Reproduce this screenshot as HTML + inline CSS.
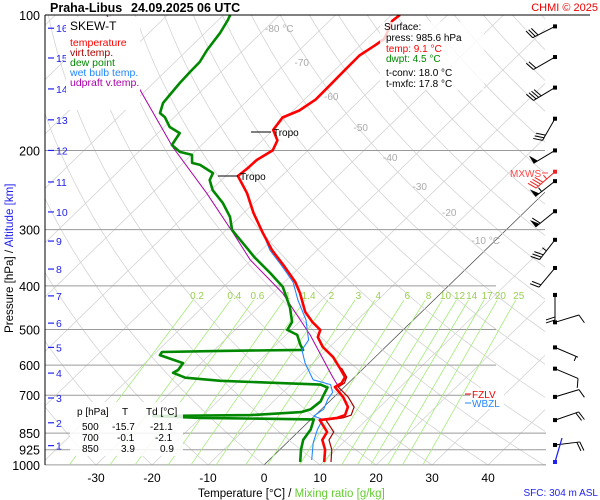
<!DOCTYPE html>
<html><head><meta charset="utf-8">
<style>
html,body{margin:0;padding:0;background:#fff;}
svg{display:block;font-family:"Liberation Sans",sans-serif;}
</style></head>
<body>
<svg id="chart" width="600" height="500" viewBox="0 0 600 500" xmlns="http://www.w3.org/2000/svg">
<defs><clipPath id="plotclip"><rect x="45" y="15" width="500" height="450"/></clipPath></defs>
<rect width="600" height="500" fill="#fff"/>
<g id="bg" clip-path="url(#plotclip)"></g>
<g id="plines"></g>
<g id="mix"></g>
<g id="series" clip-path="url(#plotclip)"></g>
<g id="barbs"></g>
<g id="axes"></g>

<line x1="45" y1="15" x2="590" y2="15" stroke="#000" stroke-width="1"/>
<line x1="45" y1="15" x2="45" y2="465" stroke="#000" stroke-width="1"/>
<text x="50" y="12" font-size="12.5" font-weight="bold">Praha-Libus</text>
<text x="131" y="12" font-size="12.5" font-weight="bold">24.09.2025 06 UTC</text>
<text x="598" y="11" font-size="11" fill="#e00" text-anchor="end">CHMI © 2025</text>

<g>
<rect x="66" y="17" width="74" height="93" fill="#fff"/>
<text x="70" y="30" font-size="12">SKEW-T</text>
<text x="70" y="46" font-size="10.5" fill="#f00">temperature</text>
<text x="70" y="56" font-size="10.5" fill="#a00">virt.temp.</text>
<text x="70" y="66" font-size="10.5" fill="#080">dew point</text>
<text x="70" y="76" font-size="10.5" fill="#28f">wet bulb temp.</text>
<text x="70" y="86" font-size="10.5" fill="#a0a">udpraft v.temp.</text>
</g>

<g font-size="10">
<rect x="70" y="402" width="113" height="54" fill="#fff" opacity="0.85"/>
<text x="77" y="415">p [hPa]</text><text x="122" y="415">T</text><text x="146" y="415">Td [°C]</text>
<text x="82" y="430">500</text><text x="112" y="430">-15.7</text><text x="150" y="430">-21.1</text>
<text x="82" y="441">700</text><text x="117" y="441">-0.1</text><text x="155" y="441">-2.1</text>
<text x="82" y="452">850</text><text x="121" y="452">3.9</text><text x="160" y="452">0.9</text>
</g>

<g font-size="10">
<rect x="470" y="388" width="34" height="21" fill="#fff"/>
<text x="472" y="398" fill="#e00">FZLV</text>
<line x1="465" y1="394" x2="471" y2="394" stroke="#e00"/>
<text x="472" y="407" fill="#28f">WBZL</text>
<line x1="465" y1="403" x2="471" y2="403" stroke="#28f"/>
<text x="510" y="177" fill="#f44" font-size="10">MXWS</text>
<line x1="542" y1="173" x2="548" y2="173" stroke="#f44"/>
</g>

<text x="198" y="497" font-size="11.5">Temperature [°C]  /  <tspan fill="#6c3">Mixing ratio [g/kg]</tspan></text>
<text x="598" y="496" font-size="10" fill="#22e" text-anchor="end">SFC: 304 m ASL</text>
<text transform="translate(13,333) rotate(-90)" font-size="11.6">Pressure [hPa]  /  <tspan fill="#22e">Altitude [km]</tspan></text>
</svg>
<script>
// ---- data ----
const tempP = [985,925,880,845,795,786,775,743,706,671,658,638,609,576,547,520,501,481,457,415,392,359,333,305,275,249,228,219,210,200,190,180,169,163,154,143,132,123,117,113,103,100];
const tempT = [10.2,8.1,5.8,5.2,1.7,4.4,5.3,4.3,1.6,-1.7,-1.2,-1.7,-4.3,-7.5,-11.2,-13.9,-14.8,-17.7,-20.8,-25.2,-28.1,-33.4,-38.1,-42.9,-48.3,-53.0,-57.8,-57.5,-57.4,-56.3,-57.3,-60.0,-60.6,-58.9,-58.0,-58.1,-58.2,-58.3,-57.4,-56.9,-58.8,-58.5];
const dewP = [985,925,880,834,792,786,779,775,763,752,722,704,673,663,650,640,624,615,594,570,561,558,555,541,514,501,481,446,402,374.5,345.6,329.8,300.6,281,261.9,245.1,232.8,224.6,215.4,213.2,204.6,201.5,194.5,183,177.4,168.6,165.2,157,150.6,141.6,133.8,127.2,119.6,109.7,102.6,100];
const dewT = [5.9,3.8,2.4,1.8,0.5,-19.9,-28.8,-11.5,-3.1,-1.9,-1.6,-2.1,-2.9,-4.7,-23.3,-30.1,-33.2,-32.8,-33.2,-38.8,-39.0,-28.8,-14.2,-15.6,-18.0,-20.7,-21.3,-24.4,-29.4,-34.2,-39.9,-42.9,-48.9,-51.7,-55.5,-59.7,-62.1,-62.8,-66.6,-68.4,-69.9,-72.6,-75.3,-76.1,-79.0,-81.7,-83.3,-84.6,-84.9,-85.3,-85.5,-85.6,-86.5,-87.3,-88.3,-88.8];
const wetP = [975,893,834,792,779,752,715,690,663,647,594,555,528,476,430,392,359,333,305,275,249,228];
const wetT = [7.6,4.7,3.0,2.1,-0.1,0.4,-0.7,-1.1,-2.9,-6.9,-11.4,-14.4,-15.0,-19.2,-24.3,-28.5,-33.8,-38.5,-42.9,-48.3,-53.0,-57.8];
const virtP = [985,925,880,845,795,786,775,743,706,671,658,638,609];
const virtT = [11.4,9.3,7.0,6.4,2.8,5.4,6.4,5.4,2.5,-1.1,-0.7,-1.4,-4.0];
const parcP = [663,638,514,415,350,305,249,196.5,146.8,100];
const parcT = [-1.7,-3.9,-15.7,-28.3,-40.2,-48.2,-60.2,-74.8,-91.1,-110.8];
const pTicks = [100,200,300,400,500,600,700,850,925,1000];
const tTicks = [-30,-20,-10,0,10,20,30,40];
const kmTicks = [1,2,3,4,5,6,7,8,9,10,11,12,13,14,15,16];
const kmP = [906,806,710,625,548,484,421,367,318,274,235,200,171,146,124.6,107];
const mixVals = [0.2,0.4,0.6,1,1.4,2,3,4,6,8,10,12,14,17,20,25];
const windP = [106,124,145,170,200,234,273,316,365,419,482,548,611,706,795,903];
const windDir = [243,240,239,210,239,232,231,218,220,180,73,113,113,73,71,83];
const windSpd = [30,20,40,30,50,55,60,35,20,20,10,5,10,10,20,20];
const tropoP = [182,228];
const tropoT = [-60.0,-57.8];

// ---- axes ----
const NS='http://www.w3.org/2000/svg';
function yOf(p){return 15+195.4*Math.log(p/100);}
function xOf(T,p){return 264+5.6*T+1.03*(465-yOf(p));}
function mk(tag,attrs,parent){const e=document.createElementNS(NS,tag);for(const k in attrs)e.setAttribute(k,attrs[k]);parent.appendChild(e);return e;}
const svg=document.getElementById('chart');
const bg=document.getElementById('bg'), pl=document.getElementById('plines'), mix=document.getElementById('mix'), ser=document.getElementById('series'), barbs=document.getElementById('barbs'), ax=document.getElementById('axes');

for(let T=-170;T<=50;T+=10){
  const l=mk('line',{x1:xOf(T,1000),y1:yOf(1000),x2:xOf(T,100),y2:yOf(100),stroke:T===0?'#444':'#d4d4d4','stroke-width':T===0?0.7:0.8},bg);
  
  
}
for(let th=-40;th<=260;th+=10){
  let pts=[];
  for(let p=1050;p>=95;p-=10){const T=(th+273.15)*Math.pow(p/1000,0.2857)-273.15;pts.push(xOf(T,p).toFixed(1)+','+yOf(p).toFixed(1));}
  const l=mk('polyline',{points:pts.join(' '),fill:'none',stroke:'#d4d4d4','stroke-width':0.8},bg);
  
  
}
pTicks.forEach(p=>{
  const y=yOf(p); const x2=(p>=850)?546:(p<=300?545:496);
  if(p!==100){const l=mk('line',{x1:45,y1:y,x2:x2,y2:y,stroke:'#9a9a9a','stroke-width':1},pl);
  
  }
  const t=mk('text',{x:40,y:y+5,'font-size':12.5,'text-anchor':'end'},ax);t.textContent=p;
  
  
});
tTicks.forEach(T=>{
  const t=mk('text',{x:xOf(T,1000),y:482,'font-size':12,'text-anchor':'middle'},ax);t.textContent=T;
  
  
});
[[-80,' °C',28],[-70,'',62],[-60,'',96],[-50,'',127],[-40,'',157],[-30,'',186],[-20,'',212],[-10,' °C',240]].forEach(a=>{
  const t=mk('text',{x:265+(a[0]+80)*2.95,y:a[2]+4,'font-size':10,fill:'#aaa'},ax);t.textContent=a[0]+a[1];
  
  
});
kmTicks.forEach((k,i)=>{
  const y=yOf(kmP[i]);
  mk('line',{x1:48,y1:y,x2:54,y2:y,stroke:'#22e','stroke-width':1.2},ax);
  const t=mk('text',{x:56,y:y+4,'font-size':10.5,fill:'#22e'},ax);t.textContent=k;
  
  
});
function tdOf(w,p){const e=w*p/(622+w);const L=Math.log(e/6.112);return 243.5*L/(17.67-L);}
mixVals.forEach(w=>{
  const l=mk('line',{x1:xOf(tdOf(w,1000),1000),y1:yOf(1000),x2:xOf(tdOf(w,430),430),y2:yOf(430),stroke:'#a6ec7a','stroke-width':0.8},mix);
  
  
  const t=mk('text',{x:xOf(tdOf(w,419),419),y:299,'font-size':10,fill:'#9ad050','text-anchor':'middle'},mix);t.textContent=w;
  
  
});

function line(P,T,color,w,name){
  const pts=P.map((p,i)=>xOf(T[i],p).toFixed(1)+','+yOf(p).toFixed(1)).join(' ');
  const l=mk('polyline',{points:pts,fill:'none',stroke:color,'stroke-width':w,'stroke-linejoin':'round'},ser);
  
  
}
line(parcP,parcT,'#a0a',1,'updraft-line');
line(virtP,virtT,'#a00',1.2,'virtual-temp-line');
line(dewP,dewT,'#080',2.6,'dew-point-line');
line(wetP,wetT,'#28f',1.1,'wet-bulb-line');
line(tempP,tempT,'#f00',2.6,'temperature-line');

tropoP.forEach((p,i)=>{
  const x=xOf(tropoT[i],p), y=yOf(p);
  mk('line',{x1:x-20,y1:y,x2:x,y2:y,stroke:'#000','stroke-width':1},ax);
  const t=mk('text',{x:x+2,y:y+4,'font-size':10},ax);t.textContent='Tropo';
  
  
});

function barb(p,dir,spd,color){
  const x0=555,y0=yOf(p),L=25,a=dir*Math.PI/180;
  const ux=Math.sin(a),uy=-Math.cos(a);
  const g=mk('g',{},barbs);
  
  
  const xe=x0+ux*L,ye=y0+uy*L;
  mk('line',{x1:x0,y1:y0,x2:xe,y2:ye,stroke:color,'stroke-width':1},g);
  mk('rect',{x:x0-2,y:y0-2,width:4,height:4,fill:color},g);
  const rx=-uy,ry=ux;
  let s=spd,pos=0;
  while(s>=50){const bx=xe-ux*pos,by=ye-uy*pos;
    mk('polygon',{points:`${bx},${by} ${bx+rx*9},${by+ry*9} ${bx-ux*5},${by-uy*5}`,fill:color},g);pos+=6;s-=50;}
  while(s>=10){const bx=xe-ux*pos,by=ye-uy*pos;
    mk('line',{x1:bx,y1:by,x2:bx+rx*9+ux*3,y2:by+ry*9+uy*3,stroke:color,'stroke-width':1},g);pos+=3;s-=10;}
  if(s>=5){const bx=xe-ux*(pos+2),by=ye-uy*(pos+2);
    mk('line',{x1:bx,y1:by,x2:bx+rx*5,y2:by+ry*5,stroke:color,'stroke-width':1},g);}
}
windP.forEach((p,i)=>barb(p,windDir[i],windSpd[i],'#000'));
barb(223,229,45,'#e22');
mk('line',{x1:555,y1:462,x2:562,y2:438,stroke:'#22e','stroke-width':1.3},barbs);
mk('rect',{x:553,y:460,width:4,height:4,fill:'#22e'},barbs);

const sg=mk('g',{'font-size':10},svg);


mk('rect',{x:380,y:22,width:104,height:68,fill:'#fff',opacity:0.8},sg);
[['Surface:',384,30,'#000'],['press: 985.6 hPa',386,41,'#000'],['temp: 9.1 °C',386,52,'#f00'],['dwpt: 4.5 °C',386,62,'#080'],['t-conv: 18.0 °C',386,76,'#000'],['t-mxfc: 17.8 °C',386,87,'#000']].forEach(r=>{
  const t=mk('text',{x:r[1],y:r[2],fill:r[3]},sg);t.textContent=r[0];
});
</script>
</body></html>
